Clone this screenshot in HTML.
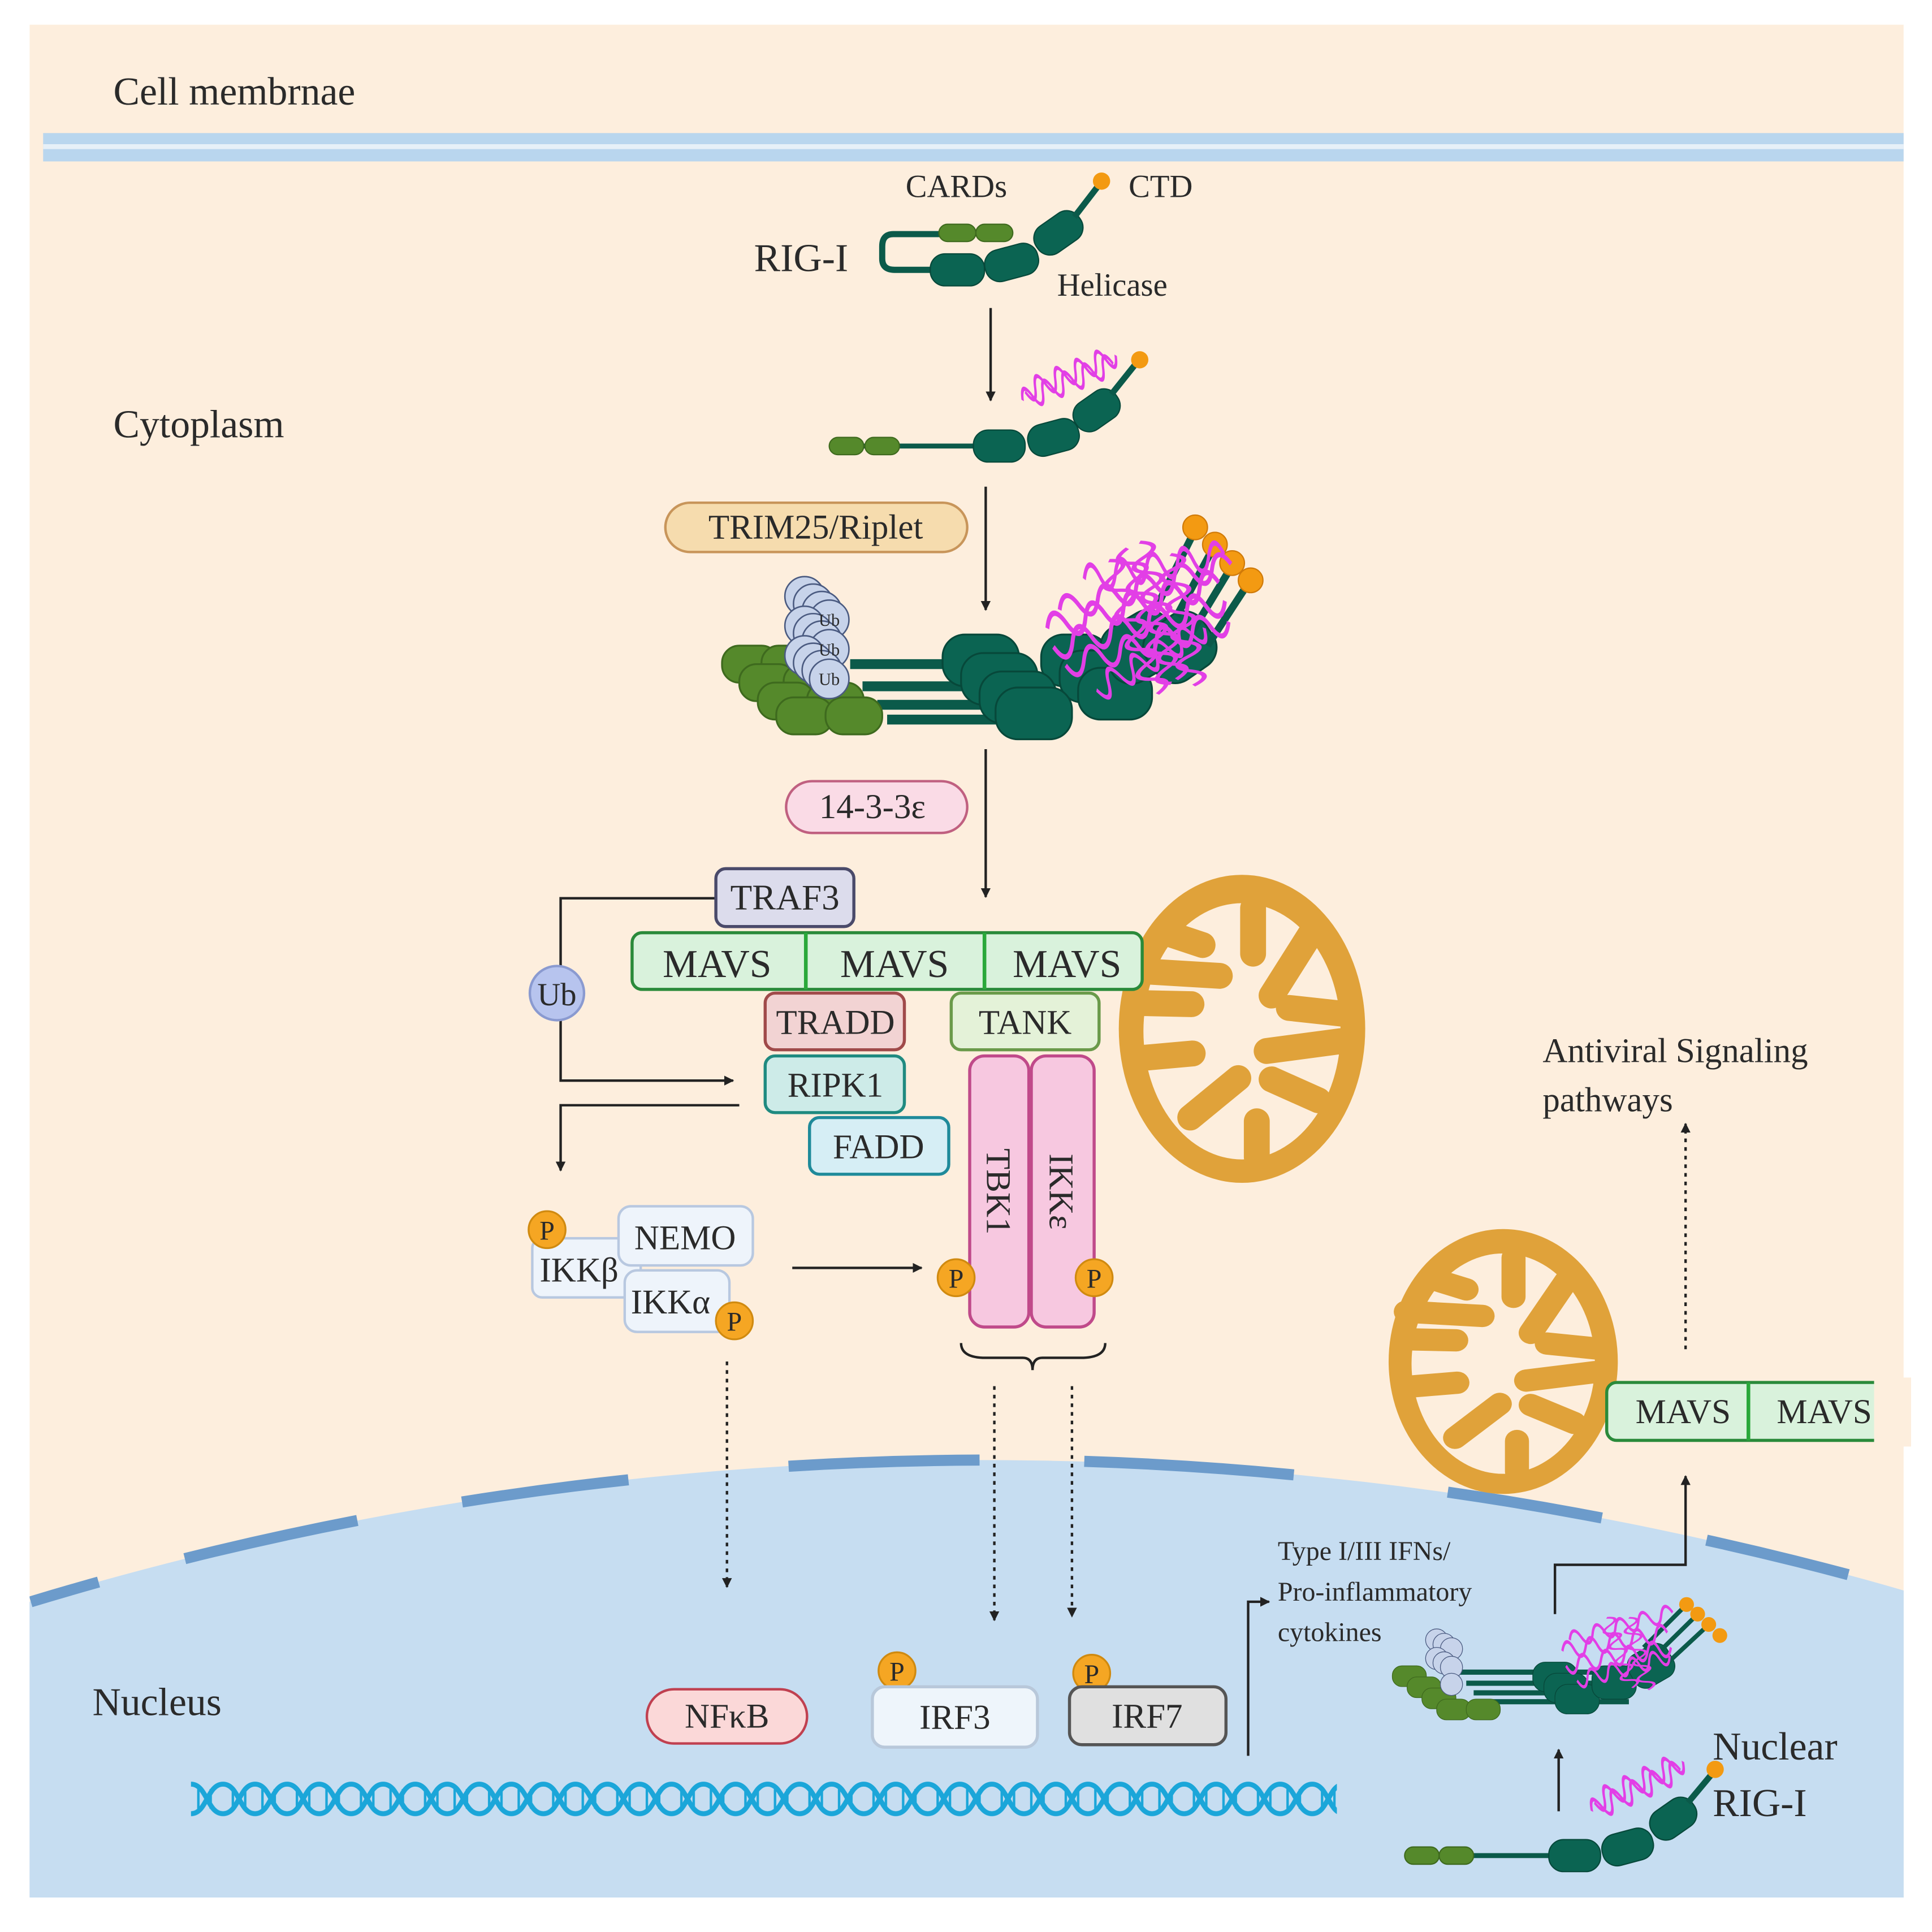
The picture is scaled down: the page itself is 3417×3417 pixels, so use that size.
<!DOCTYPE html>
<html><head><meta charset="utf-8"><style>html,body{margin:0;padding:0;background:#fff;width:3417px;height:3417px;overflow:hidden}svg{display:block}text{font-family:"Liberation Serif",serif;fill:#2a2a2a}</style></head><body>
<svg width="3417" height="3417" viewBox="0 0 1568 1568" xmlns="http://www.w3.org/2000/svg">
<defs>
<clipPath id="pc"><rect x="24" y="20" width="1521" height="1520"/></clipPath>
<pattern id="dna" x="155" y="1440" width="52" height="40" patternUnits="userSpaceOnUse">
<path d="M0,8 C13,8 13,32 26,32 C39,32 39,8 52,8" fill="none" stroke="#1ba6d9" stroke-width="4"/>
<path d="M0,32 C13,32 13,8 26,8 C39,8 39,32 52,32" fill="none" stroke="#1ba6d9" stroke-width="4"/>
<g stroke="#1ba6d9" stroke-width="2"><line x1="6" y1="12" x2="6" y2="28"/><line x1="16" y1="12" x2="16" y2="28"/><line x1="34" y1="12" x2="34" y2="28"/><line x1="44" y1="12" x2="44" y2="28"/></g>
</pattern>
<marker id="ah" viewBox="0 0 10 10" refX="9" refY="5" markerWidth="4" markerHeight="4" orient="auto"><path d="M0,0L10,5L0,10z" fill="#222"/></marker>
<g id="mito">
<ellipse cx="0" cy="0" rx="100" ry="125" fill="#e0a23a"/>
<ellipse cx="0" cy="2" rx="80" ry="104" fill="#fdeedd"/>
<g stroke="#e0a23a" stroke-width="21" stroke-linecap="round" fill="none">
<line x1="-85" y1="-47" x2="-18" y2="-43"/>
<line x1="-62" y1="-78" x2="-32" y2="-68"/>
<line x1="9" y1="-98" x2="9" y2="-61"/>
<line x1="55" y1="-76" x2="24" y2="-27"/>
<line x1="84" y1="-12" x2="38" y2="-17"/>
<line x1="80" y1="10" x2="20" y2="18"/>
<line x1="62" y1="58" x2="24" y2="41"/>
<line x1="12" y1="104" x2="12" y2="75"/>
<line x1="-42" y1="72" x2="-3" y2="40"/>
<line x1="-85" y1="24" x2="-40" y2="20"/>
<line x1="-85" y1="-21" x2="-41" y2="-20"/>
</g></g>
<g id="scrib" fill="none" stroke="#e23fe6" stroke-width="3">
<path d="M0,0 q8,-14 16,0 t16,0 t16,0 t16,0 t16,0 t16,0 t16,0 t16,0 t16,0"/>
</g>
</defs>
<rect width="1568" height="1568" fill="#fff"/>
<g clip-path="url(#pc)">
<rect x="24" y="20" width="1521" height="1520" fill="#fdeedd"/>
<rect x="35" y="108" width="1510" height="23" fill="#b9d6ee"/>
<rect x="35" y="117" width="1510" height="4" fill="#e6f0f8"/>
<circle cx="800" cy="3861" r="2676" fill="#c6ddf1"/>
<g fill="none" stroke="#6c9bcb" stroke-width="9">
<path d="M25,1300 A2676,2676 0 0 1 80,1284"/>
<path d="M150,1265 A2676,2676 0 0 1 290,1234"/>
<path d="M375,1219 A2676,2676 0 0 1 510,1201"/>
<path d="M640,1190 A2676,2676 0 0 1 795,1185"/>
<path d="M880,1186 A2676,2676 0 0 1 1050,1197"/>
<path d="M1175,1211 A2676,2676 0 0 1 1300,1232"/>
<path d="M1385,1250 A2676,2676 0 0 1 1500,1278"/>
</g>
</g>
<text x="92" y="85" font-size="32">Cell membrnae</text>
<text x="92" y="355" font-size="32">Cytoplasm</text>
<text x="75" y="1392" font-size="32">Nucleus</text>
<text x="1252" y="862" font-size="28">Antiviral Signaling</text>
<text x="1252" y="902" font-size="28">pathways</text>
<text x="1037" y="1266" font-size="22">Type  I/III IFNs/</text>
<text x="1037" y="1299" font-size="22">Pro-inflammatory</text>
<text x="1037" y="1332" font-size="22">cytokines</text>
<text x="1390" y="1428" font-size="32">Nuclear</text>
<text x="1390" y="1474" font-size="32">RIG-I</text>
<text x="612" y="220" font-size="32">RIG-I</text>
<text x="735" y="160" font-size="26">CARDs</text>
<text x="916" y="160" font-size="26">CTD</text>
<text x="858" y="240" font-size="26">Helicase</text>

<path d="M765,190 L725,190 Q716,190 716,200 L716,210 Q716,219 726,219 L760,219" fill="none" stroke="#0b5a4a" stroke-width="5"/>
<rect x="762" y="182" width="30" height="14" rx="7" fill="#55892b" stroke="#3e6a1e"/>
<rect x="792" y="182" width="30" height="14" rx="7" fill="#55892b" stroke="#3e6a1e"/>
<rect x="755" y="206" width="44" height="26" rx="12" fill="#0b6452" stroke="#07483a"/>
<rect x="799" y="200" width="44" height="26" rx="12" fill="#0b6452" stroke="#07483a" transform="rotate(-15 821 213)"/>
<rect x="838" y="176" width="42" height="26" rx="12" fill="#0b6452" stroke="#07483a" transform="rotate(-35 859 189)"/>
<line x1="872" y1="176" x2="892" y2="150" stroke="#0b5a4a" stroke-width="5"/>
<circle cx="894" cy="147" r="7" fill="#f39a12"/>
<line x1="804" y1="250" x2="804" y2="325" stroke="#222" stroke-width="2" marker-end="url(#ah)"/>

<line x1="700" y1="362" x2="795" y2="362" stroke="#0b5a4a" stroke-width="4"/>
<rect x="673" y="355" width="28" height="14" rx="7" fill="#55892b" stroke="#3e6a1e"/>
<rect x="702" y="355" width="28" height="14" rx="7" fill="#55892b" stroke="#3e6a1e"/>
<rect x="790" y="349" width="42" height="26" rx="12" fill="#0b6452" stroke="#07483a"/>
<rect x="834" y="342" width="42" height="26" rx="12" fill="#0b6452" stroke="#07483a" transform="rotate(-15 855 355)"/>
<rect x="870" y="320" width="40" height="26" rx="12" fill="#0b6452" stroke="#07483a" transform="rotate(-35 890 333)"/>
<line x1="902" y1="320" x2="922" y2="295" stroke="#0b5a4a" stroke-width="5"/>
<circle cx="925" cy="292" r="7" fill="#f39a12"/>
<use href="#scrib" transform="translate(830,325) rotate(-22) scale(0.55,1.2)"/>
<use href="#scrib" transform="translate(832,318) rotate(-22) scale(0.55,-1.2)"/>
<line x1="800" y1="395" x2="800" y2="495" stroke="#222" stroke-width="2" marker-end="url(#ah)"/>

<rect x="540" y="408" width="245" height="40" rx="20" fill="#f6dcae" stroke="#c8955a" stroke-width="2"/>
<text x="662" y="437" font-size="28" text-anchor="middle">TRIM25/Riplet</text>

<g fill="#0b5a4a">
<rect x="690" y="535" width="90" height="8"/><rect x="700" y="553" width="95" height="8"/><rect x="712" y="568" width="100" height="8"/><rect x="720" y="580" width="100" height="8"/>
</g>
<g fill="#55892b" stroke="#3e6a1e" stroke-width="1.5">
<rect x="586" y="524" width="46" height="30" rx="14"/><rect x="618" y="524" width="46" height="30" rx="14"/>
<rect x="600" y="539" width="46" height="30" rx="14"/><rect x="636" y="539" width="46" height="30" rx="14"/>
<rect x="615" y="554" width="46" height="30" rx="14"/><rect x="655" y="554" width="46" height="30" rx="14"/>
<rect x="630" y="566" width="46" height="30" rx="14"/><rect x="670" y="566" width="46" height="30" rx="14"/>
</g>
<g fill="#c7d3ea" stroke="#4a5a80" stroke-width="1.2">
<circle cx="653" cy="484" r="16"/><circle cx="660" cy="490" r="16"/><circle cx="667" cy="496" r="16"/><circle cx="673" cy="503" r="16"/>
<circle cx="653" cy="508" r="16"/><circle cx="660" cy="514" r="16"/><circle cx="667" cy="520" r="16"/><circle cx="673" cy="527" r="16"/>
<circle cx="653" cy="532" r="16"/><circle cx="660" cy="538" r="16"/><circle cx="667" cy="544" r="16"/><circle cx="673" cy="551" r="16"/>
</g>
<text x="673" y="508" font-size="14" text-anchor="middle">Ub</text>
<text x="673" y="532" font-size="14" text-anchor="middle">Ub</text>
<text x="673" y="556" font-size="14" text-anchor="middle">Ub</text>
<g fill="#0b6452" stroke="#07483a" stroke-width="1.5">
<rect x="765" y="515" width="62" height="42" rx="18"/><rect x="845" y="515" width="55" height="42" rx="18"/>
<rect x="780" y="530" width="62" height="42" rx="18"/><rect x="860" y="528" width="55" height="42" rx="18"/>
<rect x="795" y="545" width="62" height="42" rx="18"/><rect x="875" y="542" width="60" height="42" rx="18"/>
<rect x="808" y="558" width="62" height="42" rx="18"/><rect x="895" y="500" width="60" height="50" rx="18" transform="rotate(-30 925 525)"/>
<rect x="930" y="500" width="55" height="50" rx="18" transform="rotate(-35 958 525)"/>
</g>
<g stroke="#0b5a4a" stroke-width="6">
<line x1="940" y1="490" x2="970" y2="430"/><line x1="955" y1="500" x2="985" y2="444"/><line x1="968" y1="512" x2="1000" y2="459"/><line x1="980" y1="524" x2="1014" y2="472"/>
</g>
<g fill="#f39a12" stroke="#d07a08"><circle cx="970" cy="428" r="10"/><circle cx="986" cy="442" r="10"/><circle cx="1000" cy="457" r="10"/><circle cx="1015" cy="471" r="10"/></g>
<g>
<use href="#scrib" transform="translate(850,510) rotate(-15) scale(1,1.5)"/>
<use href="#scrib" transform="translate(855,525) rotate(-15) scale(1,-1.5)"/>
<use href="#scrib" transform="translate(860,495) rotate(-15) scale(1,1.4)"/>
<use href="#scrib" transform="translate(865,540) rotate(-15) scale(0.95,-1.4)"/>
<use href="#scrib" transform="translate(880,470) rotate(-10) scale(0.8,1.5)"/>
<use href="#scrib" transform="translate(890,560) rotate(-30) scale(0.7,-1.4)"/>
<use href="#scrib" transform="translate(900,455) rotate(70) scale(0.8,1.4)"/>
<use href="#scrib" transform="translate(925,440) rotate(75) scale(0.8,1.4)"/>
<use href="#scrib" transform="translate(950,450) rotate(80) scale(0.75,1.4)"/>
<use href="#scrib" transform="translate(915,445) rotate(72) scale(0.8,-1.4)"/>
</g>

<line x1="800" y1="608" x2="800" y2="728" stroke="#222" stroke-width="2" marker-end="url(#ah)"/>
<rect x="638" y="634" width="147" height="42" rx="21" fill="#fadbe6" stroke="#c06080" stroke-width="2"/>
<text x="708" y="664" font-size="28" text-anchor="middle">14-3-3ε</text>

<use href="#mito" transform="translate(1008,835)"/>
<use href="#mito" transform="translate(1220,1105) scale(0.93,0.86)"/>

<polyline points="581,729 455,729 455,877 595,877" fill="none" stroke="#222" stroke-width="2" marker-end="url(#ah)"/>
<polyline points="600,897 455,897 455,950" fill="none" stroke="#222" stroke-width="2" marker-end="url(#ah)"/>
<circle cx="452" cy="806" r="22" fill="#b7c4ee" stroke="#8a9ad0" stroke-width="2"/>
<text x="452" y="816" font-size="26" text-anchor="middle">Ub</text>

<rect x="581" y="705" width="112" height="47" rx="8" fill="#dcdcec" stroke="#4a4a6a" stroke-width="2.5"/>
<text x="637" y="738" font-size="29" text-anchor="middle">TRAF3</text>
<rect x="513" y="757" width="414" height="46" rx="8" fill="#d9f2dc" stroke="#2a8a3a" stroke-width="2.5"/>
<line x1="654" y1="757" x2="654" y2="803" stroke="#2aa83a" stroke-width="3"/>
<line x1="799" y1="757" x2="799" y2="803" stroke="#2aa83a" stroke-width="3"/>
<text x="582" y="793" font-size="32" text-anchor="middle">MAVS</text>
<text x="726" y="793" font-size="32" text-anchor="middle">MAVS</text>
<text x="866" y="793" font-size="32" text-anchor="middle">MAVS</text>
<rect x="621" y="806" width="113" height="46" rx="8" fill="#f2d3d3" stroke="#a04a4a" stroke-width="2.5"/>
<text x="678" y="839" font-size="28" text-anchor="middle">TRADD</text>
<rect x="772" y="806" width="120" height="46" rx="8" fill="#e4f2d8" stroke="#6a9a4a" stroke-width="2.5"/>
<text x="832" y="839" font-size="28" text-anchor="middle">TANK</text>
<rect x="621" y="857" width="113" height="46" rx="8" fill="#cdebe8" stroke="#1f8a80" stroke-width="2.5"/>
<text x="678" y="890" font-size="28" text-anchor="middle">RIPK1</text>
<rect x="657" y="907" width="113" height="46" rx="8" fill="#d6eef5" stroke="#1f8a9a" stroke-width="2.5"/>
<text x="713" y="940" font-size="28" text-anchor="middle">FADD</text>
<rect x="787" y="857" width="48" height="220" rx="12" fill="#f7c8e0" stroke="#c04a8a" stroke-width="2.5"/>
<rect x="837" y="857" width="51" height="220" rx="12" fill="#f7c8e0" stroke="#c04a8a" stroke-width="2.5"/>
<text transform="translate(801,967) rotate(90)" font-size="28" text-anchor="middle">TBK1</text>
<text transform="translate(852,967) rotate(90)" font-size="28" text-anchor="middle">IKKε</text>
<path d="M780,1090 Q780,1102 800,1102 L830,1102 Q838,1102 838,1112 Q838,1102 846,1102 L877,1102 Q897,1102 897,1090" fill="none" stroke="#222" stroke-width="2"/>

<rect x="432" y="1005" width="88" height="48" rx="8" fill="#eef4fb" stroke="#b8c8e0" stroke-width="2"/>
<text x="438" y="1040" font-size="28">IKKβ</text>
<rect x="502" y="979" width="109" height="48" rx="10" fill="#eef4fb" stroke="#b8c8e0" stroke-width="2"/>
<text x="556" y="1014" font-size="28" text-anchor="middle">NEMO</text>
<rect x="507" y="1031" width="85" height="50" rx="10" fill="#eef4fb" stroke="#b8c8e0" stroke-width="2"/>
<text x="512" y="1066" font-size="28">IKKα</text>
<line x1="643" y1="1029" x2="748" y2="1029" stroke="#222" stroke-width="2" marker-end="url(#ah)"/>

<g fill="#f5a623" stroke="#d08a10" stroke-width="1.5">
<circle cx="776" cy="1037" r="15"/><circle cx="888" cy="1037" r="15"/><circle cx="444" cy="998" r="15"/><circle cx="596" cy="1072" r="15"/><circle cx="728" cy="1356" r="15"/><circle cx="886" cy="1358" r="15"/>
</g>
<g font-size="22" text-anchor="middle">
<text x="776" y="1045">P</text><text x="888" y="1045">P</text><text x="444" y="1006">P</text><text x="596" y="1080">P</text><text x="728" y="1364">P</text><text x="886" y="1366">P</text>
</g>

<g stroke="#222" stroke-width="2" stroke-dasharray="3,4" fill="none">
<line x1="590" y1="1105" x2="590" y2="1288" marker-end="url(#ah)"/>
<line x1="807" y1="1125" x2="807" y2="1315" marker-end="url(#ah)"/>
<line x1="870" y1="1125" x2="870" y2="1312" marker-end="url(#ah)"/>
<line x1="1368" y1="1095" x2="1368" y2="912" marker-end="url(#ah)"/>
</g>

<rect x="1304" y="1122" width="240" height="47" rx="8" fill="#d9f2dc" stroke="#2a8a3a" stroke-width="2.5"/>
<rect x="1521" y="1118" width="30" height="56" fill="#fdeedd"/>
<line x1="1419" y1="1122" x2="1419" y2="1169" stroke="#2aa83a" stroke-width="3"/>
<text x="1366" y="1155" font-size="28" text-anchor="middle">MAVS</text>
<text x="1442" y="1155" font-size="28">MAVS</text>
<polyline points="1262,1310 1262,1270 1368,1270 1368,1198" fill="none" stroke="#222" stroke-width="2" marker-end="url(#ah)"/>
<polyline points="1013,1425 1013,1300 1030,1300" fill="none" stroke="#222" stroke-width="2" marker-end="url(#ah)"/>

<rect x="525" y="1371" width="130" height="44" rx="22" fill="#fbd8d8" stroke="#c04050" stroke-width="2"/>
<text x="590" y="1402" font-size="28" text-anchor="middle">NFκB</text>
<rect x="708" y="1369" width="134" height="49" rx="10" fill="#eef5fb" stroke="#b8c8da" stroke-width="2.5"/>
<text x="775" y="1403" font-size="28" text-anchor="middle">IRF3</text>
<rect x="868" y="1369" width="127" height="47" rx="10" fill="#e0e0e0" stroke="#555" stroke-width="2.5"/>
<text x="931" y="1402" font-size="28" text-anchor="middle">IRF7</text>
<rect x="155" y="1440" width="930" height="40" fill="url(#dna)"/>

<g transform="translate(1130,1295) scale(0.6)">
<g fill="#0b5a4a"><rect x="90" y="100" width="200" height="7"/><rect x="100" y="115" width="200" height="7"/><rect x="110" y="128" width="200" height="7"/><rect x="120" y="140" width="200" height="7"/></g>
<g fill="#55892b" stroke="#3e6a1e"><rect x="0" y="95" width="46" height="28" rx="13"/><rect x="20" y="110" width="46" height="28" rx="13"/><rect x="40" y="125" width="46" height="28" rx="13"/><rect x="60" y="140" width="46" height="28" rx="13"/><rect x="100" y="140" width="46" height="28" rx="13"/></g>
<g fill="#c7d3ea" stroke="#4a5a80"><circle cx="60" cy="60" r="15"/><circle cx="70" cy="66" r="15"/><circle cx="80" cy="72" r="15"/><circle cx="60" cy="85" r="15"/><circle cx="70" cy="91" r="15"/><circle cx="80" cy="97" r="15"/><circle cx="80" cy="120" r="15"/></g>
<g fill="#0b6452" stroke="#07483a"><rect x="190" y="90" width="60" height="40" rx="17"/><rect x="205" y="105" width="60" height="40" rx="17"/><rect x="220" y="120" width="60" height="40" rx="17"/><rect x="270" y="95" width="60" height="45" rx="17"/><rect x="320" y="70" width="60" height="50" rx="17" transform="rotate(-30 350 95)"/></g>
<g stroke="#0b5a4a" stroke-width="6"><line x1="340" y1="70" x2="395" y2="15"/><line x1="355" y1="82" x2="410" y2="28"/><line x1="368" y1="95" x2="425" y2="42"/></g>
<g fill="#f39a12"><circle cx="398" cy="12" r="10"/><circle cx="413" cy="25" r="10"/><circle cx="428" cy="39" r="10"/><circle cx="443" cy="54" r="10"/></g>
<use href="#scrib" transform="translate(230,75) rotate(-10) scale(1,1.6)"/>
<use href="#scrib" transform="translate(235,95) rotate(-10) scale(1,-1.6)"/>
<use href="#scrib" transform="translate(240,60) rotate(-15) scale(1,1.5)"/>
<use href="#scrib" transform="translate(250,115) rotate(-15) scale(0.9,-1.5)"/>
<use href="#scrib" transform="translate(290,30) rotate(70) scale(0.7,1.4)"/>
<use href="#scrib" transform="translate(320,30) rotate(75) scale(0.7,1.4)"/>
</g>
<line x1="1265" y1="1470" x2="1265" y2="1420" stroke="#222" stroke-width="2" marker-end="url(#ah)"/>
<line x1="1190" y1="1506" x2="1262" y2="1506" stroke="#0b5a4a" stroke-width="4"/>
<rect x="1140" y="1499" width="28" height="14" rx="7" fill="#55892b" stroke="#3e6a1e"/>
<rect x="1168" y="1499" width="28" height="14" rx="7" fill="#55892b" stroke="#3e6a1e"/>
<rect x="1257" y="1493" width="42" height="26" rx="12" fill="#0b6452" stroke="#07483a"/>
<rect x="1300" y="1486" width="42" height="26" rx="12" fill="#0b6452" stroke="#07483a" transform="rotate(-15 1321 1499)"/>
<rect x="1338" y="1463" width="40" height="26" rx="12" fill="#0b6452" stroke="#07483a" transform="rotate(-35 1358 1476)"/>
<line x1="1370" y1="1463" x2="1390" y2="1439" stroke="#0b5a4a" stroke-width="5"/>
<circle cx="1392" cy="1436" r="7" fill="#f39a12"/>
<use href="#scrib" transform="translate(1292,1470) rotate(-25) scale(0.55,1.2)"/>
<use href="#scrib" transform="translate(1294,1463) rotate(-25) scale(0.55,-1.2)"/>
</svg>
</body></html>
